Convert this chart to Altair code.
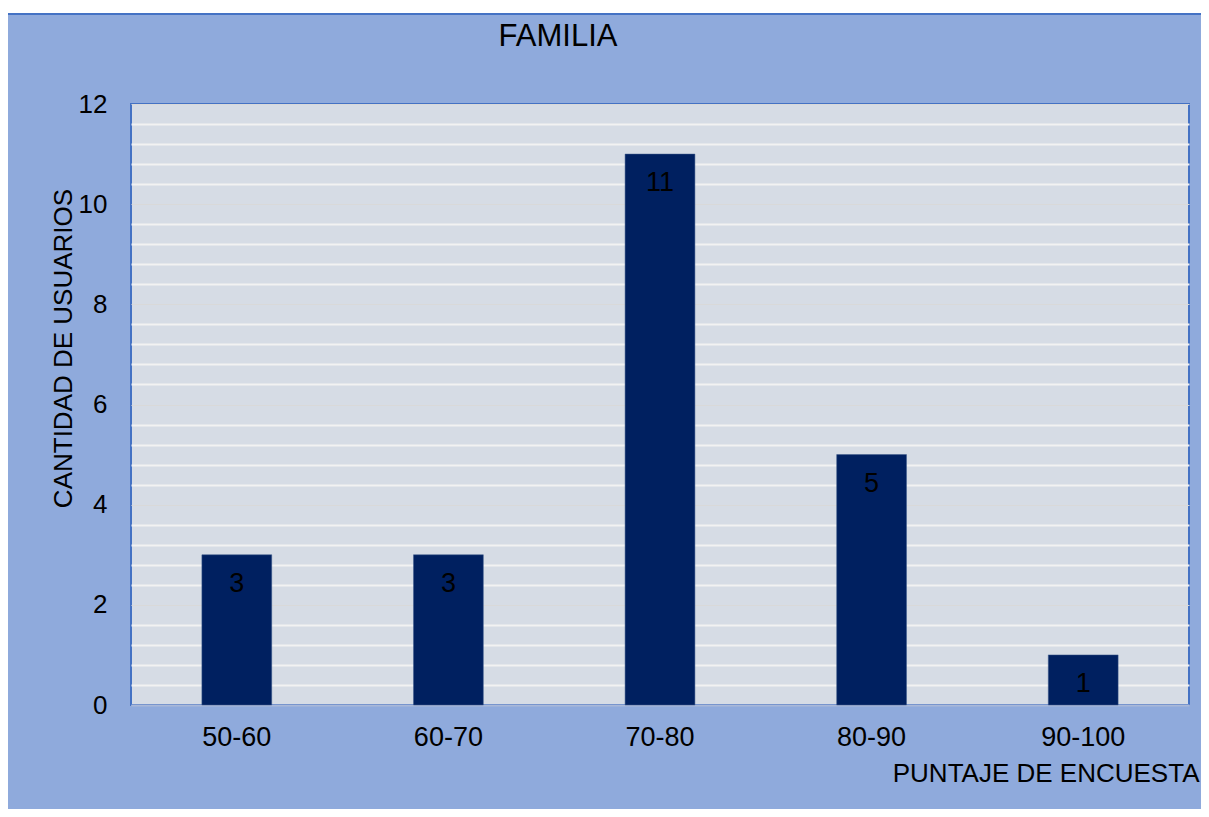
import altair as alt
import pandas as pd

categories = ["50-60", "60-70", "70-80", "80-90", "90-100"]
counts = [3, 3, 11, 5, 1]
y_ticks = [round(i * 0.4, 1) for i in range(31)]
chart_title = ["FAMILIA"]

df = pd.DataFrame({"rango": categories, "usuarios": counts})
tdf = pd.DataFrame({"t": chart_title})

FONT = "Liberation Sans"
W, H = 1058, 601

strip = alt.Chart(tdf).mark_rect(fill="white").encode(
    x=alt.value(-123), x2=alt.value(1070),
    y=alt.value(-96), y2=alt.value(-91)
)
frame = alt.Chart(tdf).mark_rect(
    fill=None, filled=False, stroke="#4472C4", strokeWidth=2
).encode(
    x=alt.value(-124), x2=alt.value(1090),
    y=alt.value(-90), y2=alt.value(720)
)
title = alt.Chart(tdf).mark_text(
    font=FONT, fontSize=31, color="black", align="center", baseline="middle"
).encode(x=alt.value(427), y=alt.value(-67), text="t:N")

base = alt.Chart(df).encode(
    x=alt.X("rango:N", sort=categories, title="PUNTAJE DE ENCUESTA",
            scale=alt.Scale(paddingInner=0.67, paddingOuter=0.335),
            axis=alt.Axis(labelAngle=0, labelFont=FONT, labelFontSize=27,
                          labelColor="black", labelPadding=19, ticks=False,
                          domainColor="#A9B8D8", domainWidth=2,
                          titleFont=FONT, titleFontSize=26, titleFontWeight="normal",
                          titleColor="black", titleX=1068, titleY=68,
                          titleAlign="right", titleBaseline="middle")),
    y=alt.Y("usuarios:Q", title="CANTIDAD DE USUARIOS",
            scale=alt.Scale(domain=[0, 12], nice=False),
            axis=alt.Axis(values=y_ticks,
                          labelExpr="datum.value % 2 == 0 ? format(datum.value, 'd') : ''",
                          labelFont=FONT, labelFontSize=26, labelColor="black",
                          labelPadding=24, ticks=False, domain=False,
                          gridColor={"condition": {"test": "datum.value % 2 == 0", "value": "#D9D9D9"}, "value": "#F2F2F2"},
                          gridWidth={"condition": {"test": "datum.value % 2 == 0", "value": 1}, "value": 2},
                          titleFont=FONT, titleFontSize=26, titleFontWeight="normal",
                          titleColor="black", titleX=-68, titleY=244,
                          titleAlign="center", titleBaseline="middle"))
)

bars = base.mark_bar(color="#002060", stroke="#3C5A8C", strokeWidth=0.5)
labels = base.mark_text(font=FONT, fontSize=27, color="black",
                        baseline="middle", dy=29).encode(text="usuarios:Q")

chart = alt.layer(bars, labels, strip, frame, title).properties(
    width=W, height=H,
    padding={"left": 123, "top": 96, "right": 12, "bottom": 104},
    autosize=alt.AutoSizeParams(type="none"),
    background="#8FAADC"
).configure_view(
    fill="#D6DCE5", stroke="#4472C4", strokeWidth=2
)

chart.save("out.html", embed_options={"renderer": "svg", "actions": False})
